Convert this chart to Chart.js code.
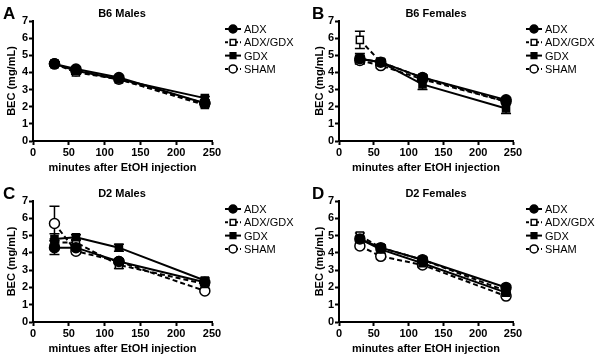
<!DOCTYPE html>
<html lang="en">
<head>
<meta charset="UTF-8">
<title>BEC after EtOH injection</title>
<script src="https://cdn.jsdelivr.net/npm/chart.js"></script>
<style>
    body { margin: 0; background: #fff; font-family: "Liberation Sans", Arial, sans-serif; }
    #wrap { position: relative; width: 602px; height: 361px; }
    .panel { position: absolute; width: 301px; height: 180px; }
    .panel canvas { position: absolute; left: 0; top: 0; }
    .letter { position: absolute; font-weight: bold; font-size: 17px; line-height: 17px; }
    .ptitle { position: absolute; font-weight: bold; font-size: 11px; line-height: 12px; transform: translateX(-50%); white-space: nowrap; }
</style>
</head>
<body>
<div id="wrap">
    <div class="panel" style="left:0;top:0"><canvas id="chartA" width="301" height="180"></canvas>
        <div class="letter" style="left:3px;top:5px">A</div><div class="ptitle" style="left:122px;top:7px">B6 Males</div></div>
    <div class="panel" style="left:301px;top:0"><canvas id="chartB" width="301" height="180"></canvas>
        <div class="letter" style="left:11px;top:5px">B</div><div class="ptitle" style="left:135px;top:7px">B6 Females</div></div>
    <div class="panel" style="left:0;top:180px"><canvas id="chartC" width="301" height="181"></canvas>
        <div class="letter" style="left:3px;top:5px">C</div><div class="ptitle" style="left:122px;top:7px">D2 Males</div></div>
    <div class="panel" style="left:301px;top:180px"><canvas id="chartD" width="301" height="181"></canvas>
        <div class="letter" style="left:11px;top:5px">D</div><div class="ptitle" style="left:135px;top:7px">D2 Females</div></div>
</div>

<script>
    // Data
    const minutes = [30, 60, 120, 240];
    const groups = ['ADX', 'ADX/GDX', 'GDX', 'SHAM'];

    // A: B6 Males
    const b6mADX = [4.5, 4.2, 3.7, 2.2];
    const b6mADXGDX = [4.5, 4.0, 3.6, 2.1];
    const b6mGDX = [4.5, 4.1, 3.6, 2.5];
    const b6mSHAM = [4.5, 4.1, 3.6, 2.2];
    const b6mErr = [0.1, 0.1, 0.1, 0.1];

    // B: B6 Females
    const b6fADX = [4.8, 4.6, 3.7, 2.4];
    const b6fADXGDX = [5.9, 4.6, 3.7, 2.3];
    const b6fGDX = [4.8, 4.6, 3.3, 1.9];
    const b6fSHAM = [4.7, 4.4, 3.6, 2.3];
    const b6fErrADX = [0.3, 0.15, 0.15, 0.1];
    const b6fErrADXGDX = [0.5, 0.15, 0.15, 0.1];
    const b6fErrGDX = [0.2, 0.15, 0.3, 0.3];
    const b6fErrSHAM = [0.2, 0.15, 0.15, 0.1];

    // C: D2 Males
    const d2mADX = [4.3, 4.3, 3.5, 2.3];
    const d2mADXGDX = [4.6, 4.6, 3.3, 2.2];
    const d2mGDX = [4.8, 4.9, 4.3, 2.4];
    const d2mSHAM = [5.7, 4.1, 3.5, 1.8];
    const d2mErrADX = [0.4, 0.1, 0.15, 0.1];
    const d2mErrADXGDX = [0.2, 0.15, 0.2, 0.1];
    const d2mErrGDX = [0.3, 0.15, 0.2, 0.15];
    const d2mErrSHAM = [1.0, 0.15, 0.15, 0.1];

    // D: D2 Females
    const d2fADX = [4.8, 4.3, 3.6, 2.0];
    const d2fADXGDX = [5.0, 4.3, 3.6, 1.8];
    const d2fGDX = [4.8, 4.2, 3.4, 1.7];
    const d2fSHAM = [4.4, 3.8, 3.3, 1.5];
    const d2fErr = [0.15, 0.15, 0.15, 0.1];

    const styles = {
        'ADX': { pointStyle: 'circle', fill: '#000', dash: [] },
        'ADX/GDX': { pointStyle: 'rect', fill: '#fff', dash: [5, 3] },
        'GDX': { pointStyle: 'rect', fill: '#000', dash: [] },
        'SHAM': { pointStyle: 'circle', fill: '#fff', dash: [5, 3] }
    };

    function makeDataset(label, values, errs) {
        const s = styles[label];
        return {
            label: label,
            data: minutes.map((m, i) => ({ x: m, y: values[i] })),
            errors: errs,
            borderColor: '#000',
            borderWidth: 2,
            borderDash: s.dash,
            pointStyle: s.pointStyle,
            pointRadius: 5,
            pointBorderWidth: 1.5,
            pointBorderColor: '#000',
            pointBackgroundColor: s.fill,
            tension: 0
        };
    }

    // error bars drawn through the scales, under the markers
    const errorBars = {
        id: 'errorBars',
        beforeDatasetsDraw(chart) {
            const ctx = chart.ctx;
            const xs = chart.scales.x, ys = chart.scales.y;
            ctx.save();
            ctx.strokeStyle = '#000';
            ctx.lineWidth = 1.5;
            chart.data.datasets.forEach(ds => {
                ds.data.forEach((p, i) => {
                    const e = ds.errors[i];
                    const px = xs.getPixelForValue(p.x);
                    const top = ys.getPixelForValue(p.y + e);
                    const bot = ys.getPixelForValue(p.y - e);
                    ctx.beginPath();
                    ctx.moveTo(px, top); ctx.lineTo(px, bot);
                    ctx.moveTo(px - 5, top); ctx.lineTo(px + 5, top);
                    ctx.moveTo(px - 5, bot); ctx.lineTo(px + 5, bot);
                    ctx.stroke();
                });
            });
            ctx.restore();
        }
    };

    // legend: short line with the marker in the middle, like the original
    const sideLegend = {
        id: 'sideLegend',
        afterDraw(chart) {
            const ctx = chart.ctx;
            const x0 = chart.chartArea.right + 13;
            ctx.save();
            groups.forEach((g, i) => {
                const ds = chart.data.datasets.find(d => d.label === g);
                const y = 29 + i * 13.3;
                ctx.strokeStyle = '#000';
                ctx.lineWidth = 2;
                ctx.setLineDash(ds.borderDash.length ? [3, 2] : []);
                ctx.beginPath();
                ctx.moveTo(x0, y); ctx.lineTo(x0 + 16, y);
                ctx.stroke();
                ctx.setLineDash([]);
                ctx.fillStyle = ds.pointBackgroundColor;
                ctx.lineWidth = 1.5;
                Chart.helpers.drawPoint(ctx, { pointStyle: ds.pointStyle, radius: 4, rotation: 0, borderWidth: 1.5 }, x0 + 8, y);
                ctx.fillStyle = '#000';
                ctx.font = '11px "Liberation Sans Narrow", "Liberation Sans", Arial, sans-serif';
                ctx.textBaseline = 'middle';
                ctx.fillText(g, x0 + 19, y + 1);
            });
            ctx.restore();
        }
    };

    function makeChart(id, xTitle, sets, leftPad, yWidth) {
        const tickFont = { family: '"Liberation Sans", Arial, sans-serif', size: 11, weight: 'bold' };
        return new Chart(document.getElementById(id), {
            type: 'line',
            data: { datasets: sets },
            options: {
                responsive: false,
                animation: false,
                layout: { padding: { left: leftPad, top: 21, right: 89, bottom: 5 } },
                plugins: { legend: { display: false }, tooltip: { enabled: false } },
                scales: {
                    x: {
                        type: 'linear', min: 0, max: 250,
                        ticks: { stepSize: 50, color: '#000', font: tickFont, padding: 1 },
                        grid: { drawOnChartArea: false, drawTicks: true, tickLength: 4, tickColor: '#000', tickWidth: 2 },
                        border: { display: true, color: '#000', width: 2 },
                        title: { display: true, text: xTitle, color: '#000', font: tickFont, padding: { top: 4, bottom: 0 } },
                        afterFit(scale) { scale.height = 34; }
                    },
                    y: {
                        min: 0, max: 7,
                        ticks: { stepSize: 1, color: '#000', font: tickFont, padding: 1 },
                        grid: { drawOnChartArea: false, drawTicks: true, tickLength: 4, tickColor: '#000', tickWidth: 2 },
                        border: { display: true, color: '#000', width: 2 },
                        title: { display: true, text: 'BEC (mg/mL)', color: '#000', font: tickFont, padding: 0 },
                        afterFit(scale) { scale.width = yWidth; }
                    }
                }
            },
            plugins: [errorBars, sideLegend]
        });
    }

    // Chart.js paints dataset 0 last, so the filled markers go first to sit on top
    makeChart('chartA', 'minutes after EtOH injection', [
        makeDataset('GDX', b6mGDX, b6mErr),
        makeDataset('ADX', b6mADX, b6mErr),
        makeDataset('ADX/GDX', b6mADXGDX, b6mErr),
        makeDataset('SHAM', b6mSHAM, b6mErr)
    ], 5, 28);

    makeChart('chartB', 'minutes after EtOH injection', [
        makeDataset('GDX', b6fGDX, b6fErrGDX),
        makeDataset('ADX', b6fADX, b6fErrADX),
        makeDataset('ADX/GDX', b6fADXGDX, b6fErrADXGDX),
        makeDataset('SHAM', b6fSHAM, b6fErrSHAM)
    ], 12, 26);

    makeChart('chartC', 'mintues after EtOH injection', [
        makeDataset('GDX', d2mGDX, d2mErrGDX),
        makeDataset('ADX', d2mADX, d2mErrADX),
        makeDataset('ADX/GDX', d2mADXGDX, d2mErrADXGDX),
        makeDataset('SHAM', d2mSHAM, d2mErrSHAM)
    ], 5, 28);

    makeChart('chartD', 'minutes after EtOH injection', [
        makeDataset('GDX', d2fGDX, d2fErr),
        makeDataset('ADX', d2fADX, d2fErr),
        makeDataset('ADX/GDX', d2fADXGDX, d2fErr),
        makeDataset('SHAM', d2fSHAM, d2fErr)
    ], 12, 26);
</script>
</body>
</html>
